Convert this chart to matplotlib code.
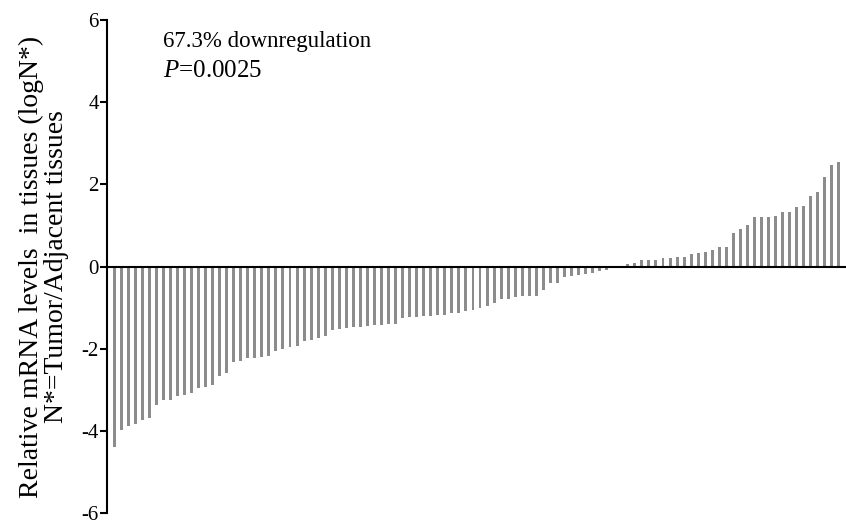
import matplotlib
matplotlib.use("Agg")
import matplotlib.pyplot as plt
import numpy as np

# log ratio (tumor / adjacent) per sample, sorted
down_vals = [-4.58, -4.39, -3.99, -3.89, -3.83, -3.73, -3.69, -3.36, -3.25, -3.24,
             -3.15, -3.13, -3.09, -2.95, -2.94, -2.89, -2.66, -2.60, -2.33, -2.29,
             -2.22, -2.22, -2.20, -2.17, -2.06, -2.00, -1.96, -1.94, -1.81, -1.78,
             -1.73, -1.70, -1.55, -1.53, -1.49, -1.47, -1.47, -1.45, -1.43, -1.43,
             -1.41, -1.40, -1.26, -1.23, -1.22, -1.20, -1.20, -1.19, -1.17, -1.14,
             -1.12, -1.08, -1.06, -1.00, -0.95, -0.88, -0.79, -0.78, -0.74, -0.73,
             -0.72, -0.71, -0.58, -0.41, -0.39, -0.25, -0.22, -0.21, -0.18, -0.15,
             -0.11, -0.09, -0.02]
up_vals = [0.02, 0.06, 0.08, 0.16, 0.16, 0.17, 0.20, 0.21, 0.22, 0.22,
           0.31, 0.33, 0.35, 0.40, 0.47, 0.48, 0.82, 0.92, 1.02, 1.20,
           1.21, 1.21, 1.22, 1.33, 1.33, 1.45, 1.48, 1.71, 1.81, 2.18,
           2.48, 2.55]
values = np.array(down_vals + up_vals)
yticks = [-6, -4, -2, 0, 2, 4, 6]

plt.rcParams['font.family'] = ['Liberation Serif', 'DejaVu Serif']
plt.rcParams['mathtext.fontset'] = 'custom'
plt.rcParams['mathtext.rm'] = 'Liberation Serif'
plt.rcParams['mathtext.it'] = 'Liberation Serif:italic'

fig = plt.figure(figsize=(8.46, 5.26), dpi=100)
ax = fig.add_axes([107 / 846, 13 / 526, 739 / 846, 493 / 526])

x = np.arange(len(values))
ax.bar(x, values, width=0.42, color='#8c8c8c', zorder=1)
ax.axhline(0, color='black', lw=1.5, zorder=2)

ax.set_xlim(0, 105)
ax.set_ylim(-6, 6)
ax.set_yticks(yticks)
ax.set_yticklabels([str(t) for t in yticks])
ax.set_xticks([])
for s in ['top', 'right', 'bottom']:
    ax.spines[s].set_visible(False)
ax.spines['left'].set_linewidth(1.5)
ax.spines['left'].set_zorder(3)
ax.tick_params(axis='y', direction='out', length=5, width=1.5, labelsize=15, pad=1)

ax.set_ylabel('Relative mRNA levels  in tissues (logN*)\nN*=Tumor/Adjacent tissues',
              fontsize=20, linespacing=1.0)
ax.yaxis.set_label_coords(-0.052, 0.5)

ax.text(0.076, 0.978, '67.3% downregulation', transform=ax.transAxes,
        fontsize=16.5, va='top', ha='left')
ax.text(0.076, 0.918, '$P$=0.0025', transform=ax.transAxes,
        fontsize=18, va='top', ha='left')

fig.savefig('out.png', dpi=100)
